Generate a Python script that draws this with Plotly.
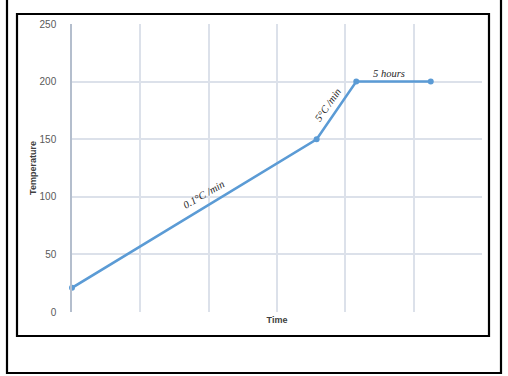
import plotly.graph_objects as go

# Heating profile: time (arbitrary units) vs temperature (°C)
time_pts = [0, 3.58, 4.16, 5.25]
temp_pts = [21, 150, 200, 200]

y_ticks = [0, 50, 100, 150, 200, 250]

# Step labels: text, x, y, angle
step_text = ["0.1°C /min", "5°C /min", "5 hours"]
step_x = [1.93, 3.75, 4.64]
step_y = [102, 180, 207]
step_angle = [-30, -55, 0]

W, H = 508, 376
L, R, T, B = 72, 482, 24, 312  # plot area in pixels


def px(x):
    return (x - L) / (R - L)


def py(y):
    return (B - y) / (B - T)


fig = go.Figure()
fig.add_trace(go.Scatter(
    x=time_pts, y=temp_pts, mode="lines+markers",
    line=dict(color="#5B9BD5", width=2.5),
    marker=dict(color="#5B9BD5", size=6),
    showlegend=False, cliponaxis=False,
))

for t, x, y, a in zip(step_text, step_x, step_y, step_angle):
    fig.add_annotation(
        x=x, y=y, xref="x", yref="y", text="<i>" + t + "</i>", showarrow=False,
        textangle=a,
        font=dict(family="Liberation Serif, DejaVu Serif, serif", size=10.5, color="#262626"),
    )

# frames around the chart
fig.add_shape(type="rect", xref="paper", yref="paper",
              x0=px(7), x1=px(501), y0=py(373), y1=py(-10),
              line=dict(color="black", width=2.2), layer="below")
fig.add_shape(type="rect", xref="paper", yref="paper",
              x0=px(17), x1=px(489), y0=py(336), y1=py(14),
              line=dict(color="black", width=2.2), layer="below")

fig.update_layout(
    width=W, height=H,
    margin=dict(l=L, r=W - R, t=T, b=H - B),
    paper_bgcolor="white", plot_bgcolor="white",
    font=dict(family="Liberation Sans", color="#595959"),
)
fig.update_xaxes(
    range=[0, 6], dtick=1, tick0=0, showticklabels=False,
    showgrid=True, gridcolor="#DCE1EA", gridwidth=1.5,
    zeroline=False, showline=False, ticks="",
    title=dict(text="<b>Time</b>", font=dict(size=9, color="#404040"), standoff=4),
    automargin=False,
)
fig.update_yaxes(
    range=[0, 250], tickvals=y_ticks,
    showgrid=True, gridcolor="#DCE1EA", gridwidth=1.5,
    zeroline=False, showline=True, linecolor="#B4BECD", linewidth=1.5,
    ticks="", ticklabelstandoff=12,
    tickfont=dict(size=10, color="#595959"),
    title=dict(text="<b>Temperature</b>", font=dict(size=9, color="#404040"), standoff=1),
    automargin=False,
)

fig.write_html("out.html")
